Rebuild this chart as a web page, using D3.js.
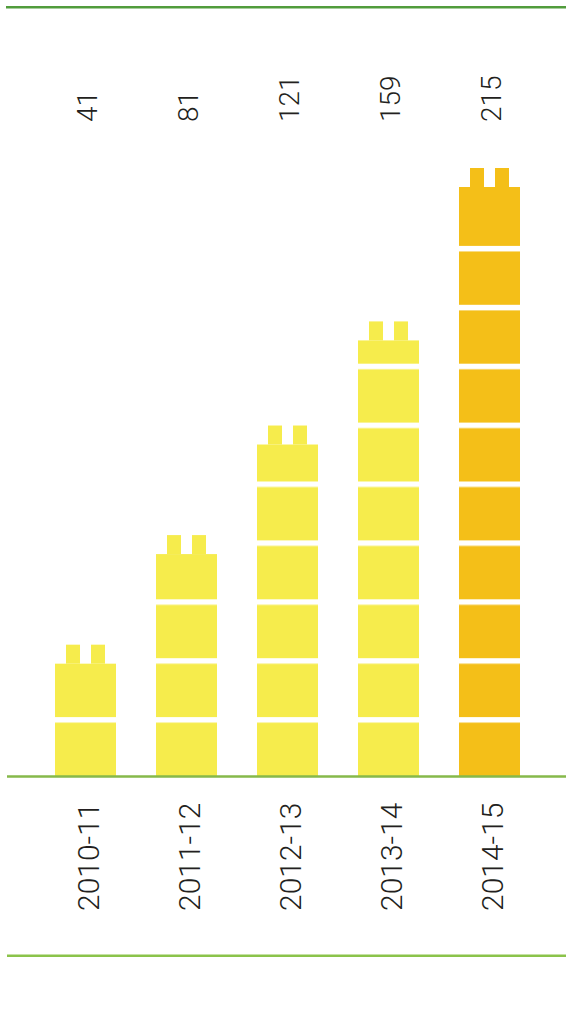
<!DOCTYPE html>
<html>
<head>
<meta charset="utf-8">
<script src="https://cdn.jsdelivr.net/npm/d3@7"></script>
<style>
  html, body { margin: 0; padding: 0; background: #ffffff; }
  svg { display: block; }
  text { font-family: Roboto, "Open Sans", "Liberation Sans", sans-serif; font-weight: 300; fill: #231f20; }
</style>
</head>
<body>
<div id="chart"></div>
<script>
const categories = ["2010-11", "2011-12", "2012-13", "2013-14", "2014-15"];
const values = [41, 81, 121, 159, 215];
const barColors = ["#f6ec4c", "#f6ec4c", "#f6ec4c", "#f6ec4c", "#f4bf18"];
const blockUnit = 21.5; // value represented by one brick

const W = 566, H = 1022;
const baseY = 776, topY = 187;

const svg = d3.select("#chart").append("svg").attr("width", W).attr("height", H);

const x = d3.scaleBand().domain(categories).range([35, 540]).paddingInner(40 / 101).paddingOuter(20 / 101);
const y = d3.scaleLinear().domain([0, 215]).range([baseY, topY]);

// top rule
svg.append("line").attr("x1", 6).attr("x2", W).attr("y1", 7.2).attr("y2", 7.2)
  .attr("stroke", "#519c3c").attr("stroke-width", 2.6);

const bw = x.bandwidth();
const g = svg.append("g");

categories.forEach((c, i) => {
  const v = values[i];
  const x0 = x(c);
  const col = barColors[i];
  // main bar
  g.append("rect").attr("x", x0).attr("y", y(v)).attr("width", bw).attr("height", y(0) - y(v)).attr("fill", col);
  // studs
  const studW = bw * 14 / 61, studH = 19;
  [11, 36].forEach(off => {
    g.append("rect").attr("x", x0 + bw * off / 61).attr("y", y(v) - studH)
      .attr("width", studW).attr("height", studH).attr("fill", col);
  });
  // gaps between bricks
  const nGaps = Math.ceil(v / blockUnit - 1e-9) - 1;
  for (let k = 1; k <= nGaps; k++) {
    const gy = y(k * blockUnit);
    g.append("rect").attr("x", x0).attr("y", gy).attr("width", bw).attr("height", 5.2).attr("fill", "#ffffff");
    g.append("rect").attr("x", x0).attr("y", gy + 5.2).attr("width", bw).attr("height", 0.8).attr("fill", "#ffffff").attr("opacity", 0.5);
  }
  // value label
  const cx = x0 + bw / 2;
  svg.append("text").attr("transform", `translate(${cx + 11.5},122) rotate(-90)`)
    .attr("text-anchor", "start").attr("font-size", 28).text(v);
  // category label
  svg.append("text").attr("transform", `translate(${cx + 13},911) rotate(-90)`)
    .attr("text-anchor", "start").attr("font-size", 30).text(c);
});

// axis line
svg.append("line").attr("x1", 7).attr("x2", W).attr("y1", 776.5).attr("y2", 776.5)
  .attr("stroke", "#86b94a").attr("stroke-width", 2.4);
// bottom rule
svg.append("line").attr("x1", 7).attr("x2", W).attr("y1", 955.8).attr("y2", 955.8)
  .attr("stroke", "#8bc34a").attr("stroke-width", 2.4);
</script>
</body>
</html>
